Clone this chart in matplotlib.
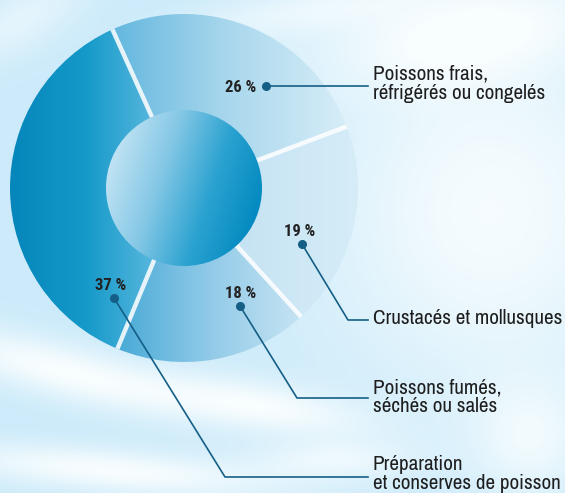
import numpy as np
import matplotlib.pyplot as plt
from matplotlib.colors import LinearSegmentedColormap

# data
shares = [26, 37, 18, 19]
pct_labels = ['26 %', '37 %', '18 %', '19 %']
categories = ['Poissons frais,\nréfrigérés ou congelés',
              'Préparation\net conserves de poisson',
              'Poissons fumés,\nséchés ou salés',
              'Crustacés et mollusques']

W, H = 565, 493
plt.rcParams['font.family'] = ['Archivo Narrow', 'Liberation Sans', 'DejaVu Sans']
pct_font = ['Roboto Condensed', 'PT Sans Narrow', 'Liberation Sans', 'DejaVu Sans']

fig = plt.figure(figsize=(W / 100, H / 100), dpi=100)
ax = fig.add_axes([0, 0, 1, 1])

# sky background: light blue with soft white clouds
yy, xx = np.mgrid[0:H, 0:W].astype(float)
base = np.array([0.80, 0.92, 0.98])
clouds = [(490, 210, 170, 190, 0, 0.85), (470, 30, 160, 50, -10, 0.7),
          (60, 370, 140, 28, 15, 0.9), (260, 405, 110, 25, 10, 0.8),
          (110, 470, 170, 22, 5, 0.9), (330, 460, 80, 20, 0, 0.6),
          (20, 20, 80, 30, -30, 0.5), (530, 440, 60, 60, 0, 0.6),
          (300, 10, 140, 25, -10, 0.5)]
m = np.zeros((H, W))
for bx, by, sx, sy, ang, a in clouds:
    t = np.deg2rad(ang)
    u = (xx - bx) * np.cos(t) + (yy - by) * np.sin(t)
    v = -(xx - bx) * np.sin(t) + (yy - by) * np.cos(t)
    m += a * np.exp(-((u / sx) ** 2 + (v / sy) ** 2))
m = np.clip(m, 0, 0.92)[..., None]
bg = base * (1 - m) + np.array([0.99, 1.0, 1.0]) * m
ax.imshow(bg, extent=(0, W, 0, H), origin='upper', zorder=0, aspect='auto')

cx, cy = 184, H - 188
R, r = 174, 78

wedges, _ = ax.pie(shares, startangle=20.7, counterclock=True, radius=R,
                   center=(cx, cy), frame=True,
                   wedgeprops=dict(linewidth=0, facecolor='none'))
ax.set_xlim(0, W)
ax.set_ylim(0, H)
ax.axis('off')

# horizontal gradients per wedge (x0, x1, colours)
fills = [(105, 350, ['#5fb5de', '#a9d7ed', '#d8eef8']),
         (10, 160, ['#0686bb', '#1499c9', '#5db9df']),
         (115, 310, ['#46a9d6', '#93cbe8', '#cbe6f4']),
         (240, 360, ['#c6e3f3', '#d6edf8'])]
for w, (x0, x1, cols) in zip(wedges, fills):
    cmap = LinearSegmentedColormap.from_list('g', cols)
    grad = np.tile(np.linspace(0, 1, 256), (2, 1))
    im = ax.imshow(grad, cmap=cmap, extent=(x0, x1, cy - R, cy + R),
                   aspect='auto', zorder=1, interpolation='bilinear')
    im.set_clip_path(w)

# white separators between wedges
for w in wedges:
    t = np.deg2rad(w.theta1)
    ax.plot([cx, cx + R * np.cos(t)], [cy, cy + R * np.sin(t)],
            color='white', lw=3.2, alpha=0.85, zorder=2, solid_capstyle='butt')

# inner disc
disc = plt.Circle((cx, cy), r, facecolor='none', edgecolor='none', zorder=3)
ax.add_patch(disc)
cmap_in = LinearSegmentedColormap.from_list('in', ['#c4e5f4', '#86c8e6', '#2aa2d0', '#0088bf'])
GX, GY = np.meshgrid(np.linspace(0, 1, 200), np.linspace(0, 1, 200))
grad_in = np.clip(0.9 * GX + 0.3 * GY - 0.1, 0, 1)
im = ax.imshow(grad_in, cmap=cmap_in, extent=(cx - r, cx + r, cy - r, cy + r),
               origin='upper', aspect='auto', zorder=3, interpolation='bilinear')
im.set_clip_path(disc)

# annotations: (text pos, dot, elbow, label y) in pixel coords (y down)
line_c = '#155f86'
annots = [((241, 88), (266, 86), None, 84),
          ((111, 286), (114, 298), (225, 477), 474),
          ((241, 293), (240, 306), (297, 398), 397),
          ((300, 232), (302, 244), (348, 320), 319)]
for pct, cat, (tp, dot, elbow, ly) in zip(pct_labels, categories, annots):
    ax.text(tp[0], H - tp[1], pct, ha='center', va='center', fontsize=12,
            fontweight='bold', color='#222222', family=pct_font, zorder=5)
    ax.plot(dot[0], H - dot[1], 'o', ms=5.5, color=line_c, zorder=5)
    if elbow is None:
        xs, ys = [dot[0], 368], [dot[1], dot[1]]
    else:
        xs, ys = [dot[0], elbow[0], 368], [dot[1], elbow[1], elbow[1]]
    ax.plot(xs, [H - v for v in ys], color=line_c, lw=1.2, zorder=4)
    ax.text(373, H - ly, cat, ha='left', va='center', fontsize=15.2,
            color='#1e1e1e', linespacing=1.0, zorder=5)

fig.savefig('out.png', dpi=100)
